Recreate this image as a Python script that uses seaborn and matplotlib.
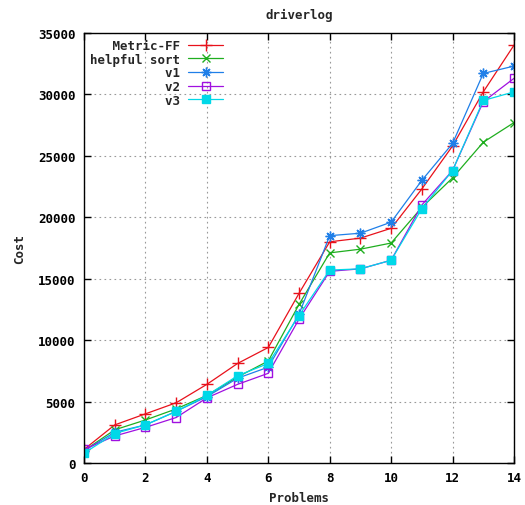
import matplotlib
matplotlib.use("Agg")
import matplotlib.pyplot as plt
import seaborn as sns
import pandas as pd

problems = list(range(15))
metric_ff = [1100, 3100, 4000, 4900, 6400, 8100, 9400, 13800, 18000, 18300, 19100, 22300, 25800, 30200, 34000]
helpful_sort = [1000, 2700, 3500, 4400, 5500, 7000, 8300, 12900, 17100, 17400, 17900, 20800, 23200, 26100, 27700]
v1 = [1000, 2500, 3100, 4200, 5400, 6900, 7800, 12100, 18500, 18700, 19600, 23000, 26000, 31700, 32300]
v2 = [1100, 2200, 2900, 3700, 5300, 6400, 7300, 11700, 15600, 15800, 16500, 21000, 23800, 29400, 31300]
v3 = [800, 2400, 3100, 4200, 5500, 7100, 8100, 12000, 15700, 15800, 16500, 20700, 23800, 29500, 30200]

series_names = ["Metric-FF", "helpful sort", "v1", "v2", "v3"]
series_values = [metric_ff, helpful_sort, v1, v2, v3]
colors = ["#e8111b", "#1fae1f", "#1f7fe8", "#a010e0", "#00d8e8"]
markers = ["+", "x", (8, 2, 0), "s", "s"]
msizes = [8, 6, 7, 6, 6]
fills = ["full", "full", "full", "none", "full"]

x_ticks = [0, 2, 4, 6, 8, 10, 12, 14]
y_ticks = [0, 5000, 10000, 15000, 20000, 25000, 30000, 35000]

sns.set_theme(style="white")
plt.rcParams["font.family"] = ["DejaVu Sans Mono"]
plt.rcParams["font.weight"] = "bold"

fig = plt.figure(figsize=(5.25, 5.06), dpi=100)
ax = fig.add_axes([0.16, 0.083, 0.819, 0.85])

width = max(len(n) for n in series_names)
for name, vals, c, m, ms, fs in zip(series_names, series_values, colors, markers, msizes, fills):
    df = pd.DataFrame({"Problems": problems, "Cost": vals})
    sns.lineplot(data=df, x="Problems", y="Cost", ax=ax, color=c, marker=m,
                 markersize=ms, linewidth=0.9, label=name.rjust(width),
                 markeredgewidth=1.0, fillstyle=fs, markeredgecolor=c,
                 markerfacecolor=(c if fs == "full" else "none"))

ax.set_xlim(0, 14)
ax.set_ylim(0, 35000)
ax.set_xticks(x_ticks)
ax.set_yticks(y_ticks)
ax.set_xticklabels([str(t) for t in x_ticks], fontsize=9, fontweight="bold")
ax.set_yticklabels([str(t) for t in y_ticks], fontsize=9, fontweight="bold")
ax.tick_params(direction="in", length=5, width=1, top=True, right=True, bottom=True, left=True, pad=6, colors="black")
ax.grid(True, linestyle=(0, (1.5, 3)), color="#999999", linewidth=0.8)
for s in ax.spines.values():
    s.set_color("black")
    s.set_linewidth(1.0)
ax.set_xlabel("Problems", fontsize=9, fontweight="bold", labelpad=5)
ax.set_ylabel("Cost", fontsize=9, fontweight="bold", labelpad=9)
ax.set_title("driverlog", fontsize=9, fontweight="bold", pad=11)

leg = ax.legend(loc="upper left", bbox_to_anchor=(0.0, 1.0), frameon=False, markerfirst=False,
                handlelength=2.8, handletextpad=0.65, labelspacing=0.05, borderaxespad=0.3,
                borderpad=0.2,
                prop={"family": "DejaVu Sans Mono", "weight": "bold", "size": 9})

fig.savefig("out.png", dpi=100)
